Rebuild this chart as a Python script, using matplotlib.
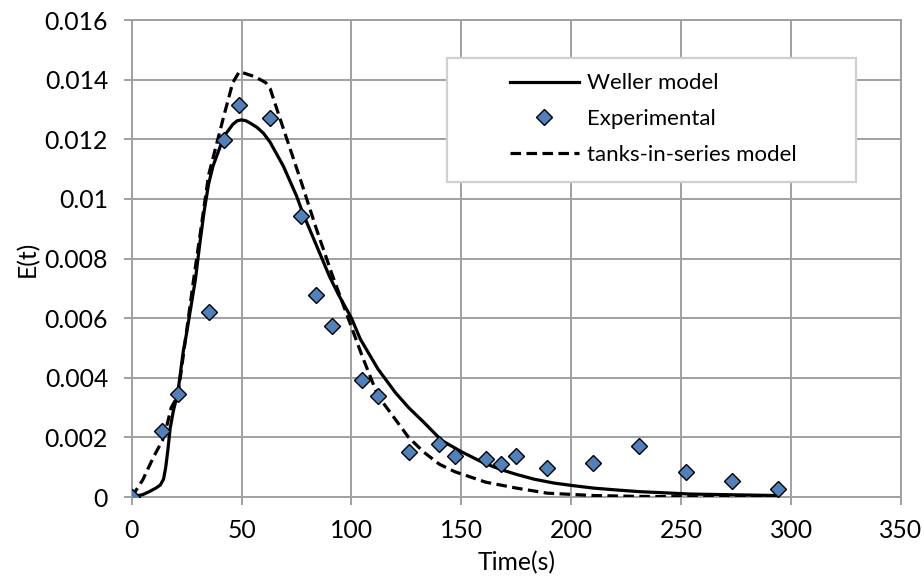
import matplotlib
matplotlib.use('Agg')
import matplotlib.pyplot as plt
from matplotlib.patches import Rectangle

plt.rcParams['font.family'] = ['Lato', 'DejaVu Sans']

# experimental RTD points
t_exp = [0, 14, 21, 35, 42, 49, 63, 77, 84, 91, 105, 112, 126, 140, 147,
         161, 168, 175, 189, 210, 231, 252, 273, 294]
E_exp = [0, 0.00222, 0.00345, 0.00621, 0.01196, 0.01315, 0.0127, 0.00944,
         0.00677, 0.00574, 0.00393, 0.0034, 0.0015, 0.00178, 0.00138,
         0.00129, 0.00112, 0.00139, 0.00096, 0.00113, 0.00171, 0.00084,
         0.00054, 0.00028]

# Weller model curve
t_weller = [0, 5, 8, 11, 13, 14.5, 15.5, 16.5, 17.5, 19, 21, 23.5, 25, 27,
            29, 31, 33, 35, 37, 40, 42, 44, 46, 48, 50, 52, 54, 57, 60, 63,
            66, 69, 72, 75, 78, 82, 86, 90, 94, 97, 100, 104, 108, 112, 116,
            120, 126, 133, 141, 150, 160, 168, 175, 183, 192, 200, 210, 220,
            231, 240, 254, 270, 294]
E_weller = [0, 0.00008, 0.00018, 0.0003, 0.0004, 0.0006, 0.001, 0.0016,
            0.0023, 0.0029, 0.0035, 0.0049, 0.0055, 0.0064, 0.0073, 0.0085,
            0.0096, 0.0105, 0.0111, 0.0117, 0.0121, 0.0123, 0.0125, 0.01262,
            0.01265, 0.01262, 0.01254, 0.0124, 0.0122, 0.0119, 0.0115,
            0.0111, 0.0106, 0.0101, 0.0095, 0.0088, 0.0081, 0.0074, 0.0068,
            0.0064, 0.006, 0.0053, 0.0048, 0.0043, 0.0039, 0.0035, 0.003,
            0.0025, 0.0019, 0.00152, 0.00115, 0.00092, 0.00076, 0.0006,
            0.00047, 0.00039, 0.0003, 0.00024, 0.00018, 0.00015, 0.0001,
            0.00008, 0.00005]

# tanks-in-series model curve
t_tis = [0, 5, 10, 14, 16, 18, 21, 28, 35, 42, 46, 49, 56, 61, 63, 67, 77,
         84, 91, 98, 105, 112, 119, 126, 133, 140, 147, 161, 168, 175, 189,
         210, 231, 252, 273, 294]
E_tis = [0, 0.00057, 0.00135, 0.0019, 0.0024, 0.003, 0.0034, 0.0072,
         0.0108, 0.0128, 0.0139, 0.01427, 0.0141, 0.0139, 0.0137, 0.0128,
         0.0106, 0.009, 0.0075, 0.0061, 0.0047, 0.0034, 0.0027, 0.002,
         0.0015, 0.0011, 0.00085, 0.0005, 0.0004, 0.0003, 0.00013, 0.00005,
         0.00002, 0.00001, 0.0, 0.0]

x_ticks = [0, 50, 100, 150, 200, 250, 300, 350]
y_ticks = [0, 0.002, 0.004, 0.006, 0.008, 0.01, 0.012, 0.014, 0.016]
y_tick_labels = ['0', '0.002', '0.004', '0.006', '0.008', '0.01', '0.012',
                 '0.014', '0.016']

grid_c = '#a0a0a0'
fs = 17.8
fs_leg = 16


def create_ax():
    fig = plt.figure(figsize=(9.24, 5.82), dpi=100)
    ax = fig.add_axes([0.1425, 0.146, 0.8326, 0.8196])
    return fig, ax


fig, ax = create_ax()

ax.plot(t_weller, E_weller, color='k', linewidth=2.3, zorder=3,
        label='Weller model')
ax.plot(t_exp, E_exp, linestyle='none', marker='D', markersize=8.5,
        markerfacecolor='#4f81bd', markeredgecolor='k', markeredgewidth=1.0,
        zorder=4, label='Experimental')
ax.plot(t_tis, E_tis, color='k', linewidth=2.3, linestyle=(0, (3.3, 1.7)),
        zorder=3, label='tanks-in-series model')

ax.set_xlim(0, 350)
ax.set_ylim(0, 0.016)
ax.set_xticks(x_ticks)
ax.set_yticks(y_ticks)
ax.set_yticklabels(y_tick_labels)
ax.tick_params(axis='both', labelsize=fs, color=grid_c, length=6, width=1.4,
               direction='out')
ax.tick_params(axis='y', pad=11)
ax.tick_params(axis='x', pad=10)
ax.grid(True, color=grid_c, linewidth=1.4, zorder=0)
ax.set_axisbelow(True)
for s in ax.spines.values():
    s.set_color(grid_c)
    s.set_linewidth(1.4)

ax.set_xlabel('Time(s)', fontsize=fs, labelpad=6)
ax.set_ylabel('E(t)', fontsize=fs, labelpad=4)

# legend box drawn by hand (Excel style: wide padding)
ax.add_patch(Rectangle((0.41, 0.66), 0.531, 0.26, transform=ax.transAxes,
                       facecolor='w', edgecolor='#d0d0d0', linewidth=1.6,
                       zorder=5))
leg = ax.legend(loc='center left', bbox_to_anchor=(0.4918, 0.7925),
                frameon=False, fontsize=fs_leg, borderpad=0, borderaxespad=0,
                handlelength=3.1, handletextpad=0.35, labelspacing=0.7)
leg.set_zorder(6)

fig.savefig('out.png', dpi=100)
